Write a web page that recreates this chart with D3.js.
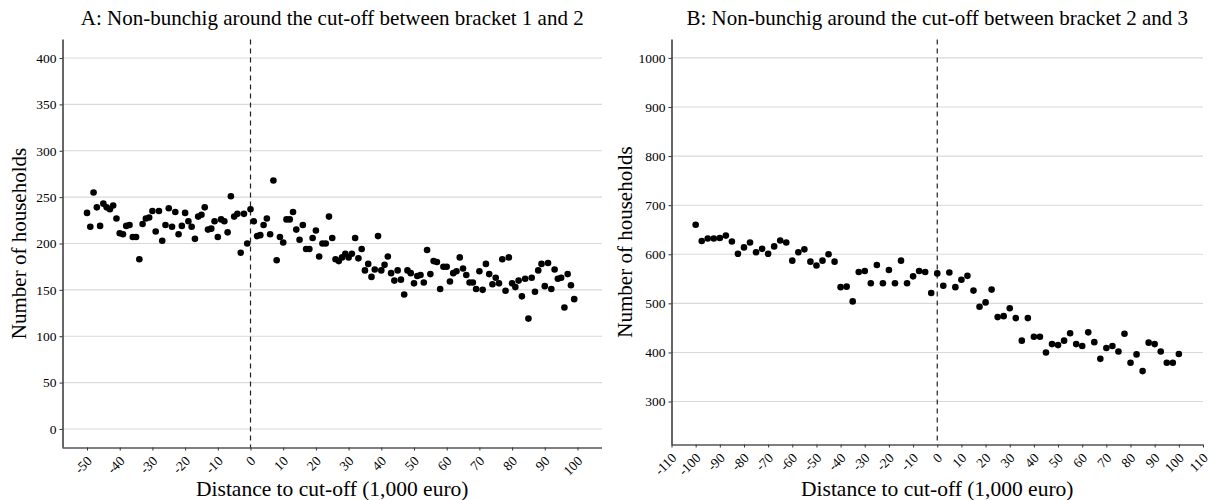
<!DOCTYPE html>
<html>
<head>
<meta charset="utf-8">
<script src="https://cdn.jsdelivr.net/npm/d3@7"></script>
<style>
  body { margin: 0; background: #fff; }
  svg text { font-family: "Liberation Serif", "DejaVu Serif", serif; fill: #000; }
</style>
</head>
<body>
<svg id="chart" width="1212" height="500"></svg>
<script>
// Panel A: counts per 1,000 euro bin, distance -50 .. 99
const binsA = d3.range(-50, 100, 1);
const countsA = [
  233, 218, 255, 239, 219, 243, 239, 237, 241, 227,
  211, 210, 219, 220, 207, 207, 183, 221, 227, 228,
  235, 213, 235, 203, 220, 238, 218, 234, 210, 219,
  233, 224, 218, 205, 229, 231, 239, 215, 216, 224,
  207, 226, 224, 212, 251, 229, 232, 190, 232, 200,
  237, 224, 208, 209, 220, 227, 210, 268, 182, 207,
  201, 226, 226, 234, 215, 204, 220, 194, 194, 206,
  214, 186, 200, 200, 229, 206, 183, 181, 185, 189,
  185, 189, 206, 184, 194, 171, 178, 164, 172, 208,
  171, 177, 186, 168, 160, 171, 161, 145, 171, 168,
  157, 165, 166, 158, 193, 167, 181, 180, 151, 175,
  175, 159, 168, 170, 185, 173, 166, 158, 158, 151,
  170, 150, 178, 167, 156, 163, 157, 183, 149, 185,
  157, 153, 160, 143, 162, 119, 163, 148, 171, 178,
  154, 179, 151, 172, 162, 163, 131, 167, 155, 140
];
const ticksXA = [-50, -40, -30, -20, -10, 0, 10, 20, 30, 40, 50, 60, 70, 80, 90, 100];
const ticksYA = [0, 50, 100, 150, 200, 250, 300, 350, 400];

// Panel B: counts per 2,500 euro bin, distance -100 .. 100
const binsB = d3.range(-100, 100.1, 2.5);
const countsB = [
  660, 627, 632, 632, 633, 638, 626, 601, 614, 624,
  604, 611, 601, 616, 628, 624, 587, 604, 610, 585,
  577, 587, 600, 585, 533, 534, 504, 564, 566, 541,
  578, 541, 568, 541, 587, 541, 555, 566, 564, 521,
  561, 536, 563, 533, 548, 556, 526, 493, 502, 528,
  472, 474, 490, 470, 424, 470, 432, 432, 400, 417,
  415, 424, 439, 417, 413, 441, 421, 387, 409, 413,
  402, 438, 379, 396, 362, 420, 417, 402, 379, 379,
  397
];
const ticksXB = d3.range(-110, 111, 10);
const ticksYB = [300, 400, 500, 600, 700, 800, 900, 1000];

const titles = [
  "A: Non-bunchig around the cut-off between bracket 1 and 2",
  "B: Non-bunchig around the cut-off between bracket 2 and 3"
];
const xTitle = "Distance to cut-off (1,000 euro)";
const yTitle = "Number of households";

const svg = d3.select("#chart");
const plainNumber = (d) => String(d);

function drawPanel(opts) {
  const { xs, ys, xDomain, yDomain, xRange, yRange, xTicks, yTicks, title, yTitleX } = opts;
  const x = d3.scaleLinear().domain(xDomain).range(xRange);
  const y = d3.scaleLinear().domain(yDomain).range(yRange);
  const g = svg.append("g");
  const [left, right] = xRange;
  const [bottom, top] = yRange;

  // horizontal grid
  g.append("g")
    .selectAll("line")
    .data(yTicks)
    .join("line")
    .attr("x1", left)
    .attr("x2", right)
    .attr("y1", (d) => y(d))
    .attr("y2", (d) => y(d))
    .attr("stroke", "#d9d9d9")
    .attr("stroke-width", 1.1);

  // cut-off line
  g.append("line")
    .attr("x1", x(0))
    .attr("x2", x(0))
    .attr("y1", top)
    .attr("y2", bottom)
    .attr("stroke", "#222")
    .attr("stroke-width", 1.2)
    .attr("stroke-dasharray", "5,4");

  // points
  g.append("g")
    .selectAll("circle")
    .data(ys.map((v, i) => [xs[i], v]))
    .join("circle")
    .attr("cx", (d) => x(d[0]))
    .attr("cy", (d) => y(d[1]))
    .attr("r", 3.3)
    .attr("fill", "#000");

  // y axis
  const yAxis = g.append("g")
    .attr("transform", `translate(${left},0)`)
    .call(d3.axisLeft(y).tickValues(yTicks).tickFormat(plainNumber).tickSize(3).tickPadding(3).tickSizeOuter(0));
  yAxis.attr("font-family", null);
  yAxis.select(".domain").attr("stroke", "#000").attr("stroke-width", 1.2)
    .attr("d", `M0.5,${top}V${bottom}`);
  yAxis.selectAll(".tick line").attr("stroke", "#333");
  yAxis.selectAll(".tick text").style("font-size", "13.5px").attr("fill", "#222");

  // x axis
  const xAxis = g.append("g")
    .attr("transform", `translate(0,${bottom})`)
    .call(d3.axisBottom(x).tickValues(xTicks).tickFormat(plainNumber).tickSize(3).tickSizeOuter(0));
  xAxis.attr("font-family", null);
  xAxis.select(".domain").attr("stroke", "#000").attr("stroke-width", 1.2)
    .attr("d", `M${left},0.5H${right}`);
  xAxis.selectAll(".tick line").attr("stroke", "#333");
  xAxis.selectAll(".tick text")
    .style("font-size", "13.5px")
    .attr("fill", "#222")
    .attr("text-anchor", "end")
    .attr("y", 0)
    .attr("dy", "0.35em")
    .attr("transform", "translate(2,11) rotate(-45)");

  // titles
  g.append("text")
    .attr("x", (left + right) / 2)
    .attr("y", 25)
    .attr("text-anchor", "middle")
    .style("font-size", "21px")
    .text(title);

  g.append("text")
    .attr("x", (left + right) / 2)
    .attr("y", 496)
    .attr("text-anchor", "middle")
    .style("font-size", "21.5px")
    .text(xTitle);

  g.append("text")
    .attr("transform", `translate(${yTitleX},${(top + bottom) / 2}) rotate(-90)`)
    .attr("text-anchor", "middle")
    .style("font-size", "21px")
    .text(yTitle);
}

drawPanel({
  xs: binsA,
  ys: countsA,
  xDomain: [-57.5, 107.5],
  yDomain: [-20, 420],
  xRange: [62.5, 602],
  yRange: [447.5, 39.5],
  xTicks: ticksXA,
  yTicks: ticksYA,
  title: titles[0],
  yTitleX: 26
});

drawPanel({
  xs: binsB,
  ys: countsB,
  xDomain: [-110, 110],
  yDomain: [212.5, 1037.5],
  xRange: [671.5, 1203],
  yRange: [444.5, 39.5],
  xTicks: ticksXB,
  yTicks: ticksYB,
  title: titles[1],
  yTitleX: 632
});
</script>
</body>
</html>
